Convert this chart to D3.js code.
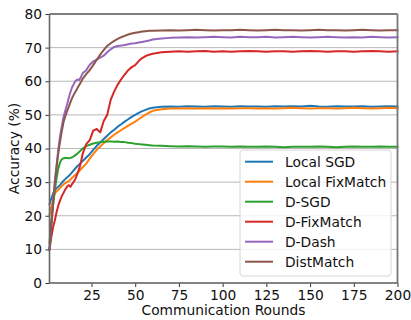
<!DOCTYPE html>
<html>
<head>
<meta charset="utf-8">
<script src="https://cdn.jsdelivr.net/npm/d3@7"></script>
<style>
  body { margin: 0; background: #fff; }
  svg { display: block; font-family: "DejaVu Sans", sans-serif; }
</style>
</head>
<body>
<div id="chart"></div>
<script>
// communication rounds at which values were read
const rounds = [1,2,3,4,5,6,7,8,9,10,11,12,13,14,15,16,17,18,19,20,
  22,24,26,28,30,32,34,36,38,40,42,44,46,48,50,52,54,56,58,60,
  65,70,75,80,85,90,95,100,105,110,115,120,125,130,135,140,145,150,155,160,165,170,175,180,185,190,195,200];

const localSGD = [23.5,25.0,26.5,27.7,28.2,28.6,29.1,29.8,30.4,30.9,31.4,31.8,32.4,33.0,33.6,34.2,34.8,35.2,35.8,36.3,
  37.3,38.3,39.6,40.8,41.8,42.8,43.8,44.8,45.6,46.5,47.2,48.0,48.7,49.4,50.0,50.6,51.1,51.5,51.9,52.1,
  52.4,52.5,52.4,52.6,52.5,52.4,52.6,52.5,52.4,52.6,52.5,52.5,52.4,52.6,52.5,52.6,52.5,52.7,52.5,52.4,52.6,52.5,52.5,52.6,52.4,52.5,52.6,52.5];

const localFixMatch = [20.2,22.5,24.8,26.5,27.3,27.7,28.2,28.8,29.3,29.7,30.0,30.3,30.8,31.3,31.8,32.3,32.8,33.3,33.9,34.4,
  35.5,37.0,38.3,39.6,40.6,41.6,42.5,43.3,44.1,44.8,45.5,46.1,46.8,47.4,48.0,48.7,49.4,50.1,50.7,51.2,
  51.7,51.9,51.9,52.0,51.9,52.0,51.9,52.0,51.9,52.0,52.0,51.9,52.0,51.9,52.0,52.1,52.0,51.9,52.0,52.0,51.9,52.0,52.1,52.0,51.9,52.0,52.1,52.0];

const dSGD = [12,18,23,27.5,31,34,35.8,36.8,37.1,37.2,37.2,37.1,37.2,37.4,37.7,38.1,38.5,39.0,39.5,40.0,
  40.7,41.1,41.5,41.7,41.9,42.0,42.1,42.1,42.0,42.1,41.9,41.9,41.7,41.6,41.4,41.3,41.2,41.1,41.0,40.9,
  40.8,40.7,40.6,40.7,40.6,40.5,40.6,40.6,40.5,40.6,40.5,40.5,40.6,40.5,40.4,40.5,40.5,40.5,40.6,40.5,40.4,40.5,40.6,40.5,40.5,40.6,40.5,40.5];

const dFixMatch = [10,13.5,16.5,18.5,21.0,23.0,24.5,25.8,26.8,27.8,28.6,29.1,28.6,29.5,30.2,31.2,32.6,34.0,36.0,38.5,
  41.3,42.5,45.3,45.8,44.8,48.2,50.0,54.5,57.0,59.0,60.6,62.0,63.3,64.2,64.8,66.0,66.9,67.5,67.9,68.2,
  68.6,68.8,68.9,68.8,68.9,69.0,68.8,68.9,68.8,68.9,69.0,68.9,68.8,68.9,68.9,68.8,68.9,69.0,68.9,68.8,68.9,68.9,68.8,68.9,69.0,68.9,68.8,68.9];

const dDash = [10,17,24,30,35,39.5,43.5,46.5,49.3,51.2,53.0,55.0,56.8,58.3,59.3,60.2,60.5,60.4,61.3,62.4,
  63.3,64.9,65.9,66.4,67.0,67.6,68.6,69.5,70.2,70.5,70.6,70.8,71.0,71.2,71.3,71.5,71.7,71.9,72.1,72.4,
  72.7,72.9,73.0,73.1,73.0,73.1,73.2,73.1,73.0,73.2,73.1,73.1,73.2,73.0,73.1,73.2,73.1,73.0,73.1,73.2,73.1,73.0,73.1,73.0,73.2,73.1,73.0,73.1];

const distMatch = [10,16.5,23,29,34,38.5,42.0,45.0,47.8,49.5,51.0,52.4,53.8,55.1,56.1,57.0,58.0,58.9,59.8,60.8,
  62.1,63.3,64.8,66.4,67.9,69.3,70.5,71.3,72.0,72.6,73.1,73.5,73.9,74.2,74.4,74.6,74.8,74.9,75.0,75.0,
  75.1,75.2,75.1,75.2,75.3,75.2,75.1,75.2,75.2,75.3,75.2,75.1,75.2,75.3,75.2,75.2,75.1,75.2,75.3,75.2,75.2,75.1,75.2,75.3,75.2,75.1,75.2,75.2];

const seriesNames = ["Local SGD", "Local FixMatch", "D-SGD", "D-FixMatch", "D-Dash", "DistMatch"];
const seriesValues = [localSGD, localFixMatch, dSGD, dFixMatch, dDash, distMatch];
const seriesColors = ["#1f77b4", "#ff7f0e", "#2ca02c", "#d62728", "#9467bd", "#8c564b"];

const yTicks = [0, 10, 20, 30, 40, 50, 60, 70, 80];
const xTicks = [25, 50, 75, 100, 125, 150, 175, 200];

const width = 411, height = 320;
const margin = {top: 14, right: 13.5, bottom: 37, left: 49.5};
const fontSize = "13.8px";

const svg = d3.select("#chart").append("svg")
    .attr("width", width)
    .attr("height", height);

const x = d3.scaleLinear().domain([1, 200]).range([margin.left, width - margin.right]);
const y = d3.scaleLinear().domain([0, 80]).range([height - margin.bottom, margin.top]);

// horizontal grid
svg.append("g")
    .selectAll("line")
    .data(yTicks)
    .join("line")
    .attr("x1", x(1)).attr("x2", x(200))
    .attr("y1", d => y(d)).attr("y2", d => y(d))
    .attr("stroke", "#b0b0b0")
    .attr("stroke-width", 0.9);

// lines
const line = d3.line()
    .x((d, i) => x(rounds[i]))
    .y(d => y(d));

svg.append("g")
    .attr("fill", "none")
    .attr("stroke-width", 2)
    .attr("stroke-linejoin", "round")
    .attr("stroke-linecap", "square")
    .selectAll("path")
    .data(seriesValues)
    .join("path")
    .attr("stroke", (d, i) => seriesColors[i])
    .attr("d", line);

// axes
const yAxis = svg.append("g")
    .attr("transform", `translate(${margin.left},0)`)
    .call(d3.axisLeft(y).tickValues(yTicks).tickSize(4).tickPadding(3.5));
const xAxis = svg.append("g")
    .attr("transform", `translate(0,${height - margin.bottom})`)
    .call(d3.axisBottom(x).tickValues(xTicks).tickSize(4).tickPadding(3.5));

[yAxis, xAxis].forEach(a => {
    a.select(".domain").remove();
    a.selectAll(".tick line").attr("stroke", "#333").attr("stroke-width", 1);
    a.selectAll(".tick text")
        .attr("fill", "#111")
        .style("font-size", fontSize)
        .style("font-family", "DejaVu Sans, sans-serif");
});

// spines
svg.append("line")
    .attr("x1", x(1)).attr("x2", x(200)).attr("y1", y(80)).attr("y2", y(80))
    .attr("stroke", "#222").attr("stroke-width", 1.2);
svg.append("line")
    .attr("x1", x(1)).attr("x2", x(1)).attr("y1", y(80)).attr("y2", y(0))
    .attr("stroke", "#666").attr("stroke-width", 1.6);
svg.append("line")
    .attr("x1", x(200)).attr("x2", x(200)).attr("y1", y(80)).attr("y2", y(0))
    .attr("stroke", "#777").attr("stroke-width", 1.8);
svg.append("line")
    .attr("x1", x(1)).attr("x2", x(200)).attr("y1", y(0)).attr("y2", y(0))
    .attr("stroke", "#666").attr("stroke-width", 1.6);

// axis titles
svg.append("text")
    .attr("x", (x(1) + x(200)) / 2)
    .attr("y", 315)
    .attr("text-anchor", "middle")
    .style("font-size", fontSize)
    .attr("fill", "#111")
    .text("Communication Rounds");

svg.append("text")
    .attr("transform", `translate(19,${(y(0) + y(80)) / 2}) rotate(-90)`)
    .attr("text-anchor", "middle")
    .style("font-size", fontSize)
    .attr("fill", "#111")
    .text("Accuracy (%)");

// legend
const legend = svg.append("g").attr("transform", "translate(240,150)");
legend.append("rect")
    .attr("width", 151).attr("height", 126)
    .attr("rx", 3)
    .attr("fill", "#fff").attr("fill-opacity", 0.8)
    .attr("stroke", "#d6d6d6").attr("stroke-width", 1);

const item = legend.selectAll("g.item")
    .data(seriesNames)
    .join("g")
    .attr("class", "item")
    .attr("transform", (d, i) => `translate(0,${11.7 + i * 20})`);

item.append("line")
    .attr("x1", 5).attr("x2", 33)
    .attr("stroke", (d, i) => seriesColors[i])
    .attr("stroke-width", 2);

item.append("text")
    .attr("x", 45)
    .attr("dy", "0.35em")
    .style("font-size", fontSize)
    .attr("fill", "#111")
    .text(d => d);
</script>
</body>
</html>
